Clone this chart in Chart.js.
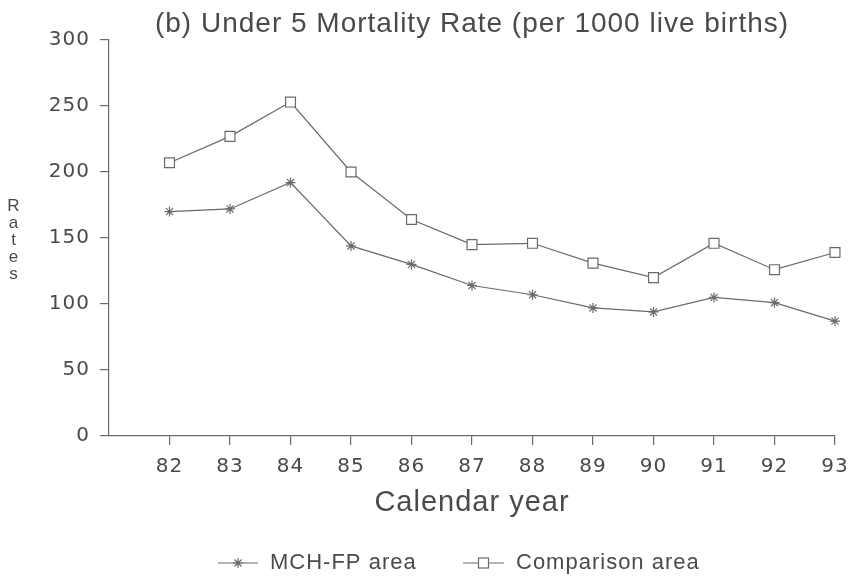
<!DOCTYPE html>
<html>
<head>
<meta charset="utf-8">
<script src="https://cdn.jsdelivr.net/npm/chart.js@4.4.1/dist/chart.umd.min.js"></script>
<style>
  html, body { margin: 0; padding: 0; background: #fff; }
  #wrap { width: 852px; height: 578px; position: relative; }
</style>
</head>
<body>
<div id="wrap"><canvas id="u5mr"></canvas></div>
<script>
// values
const years = [82, 83, 84, 85, 86, 87, 88, 89, 90, 91, 92, 93];
const mchfp = [170, 172, 192, 144, 130, 114, 107, 97, 94, 105, 101, 87];
const comparison = [207, 227, 253, 200, 164, 145, 146, 131, 120, 146, 126, 139];
const yTicks = [0, 50, 100, 150, 200, 250, 300];
const seriesNames = ["MCH-FP area", "Comparison area"];

const ink = "#4a4a4a";
const lineInk = "#6a6a6a";

function draw_marker(ctx, kind, x, y){
    ctx.save();
    ctx.strokeStyle = lineInk;
    ctx.lineWidth = 1.2;
    if(kind === "star"){
        let r = 5;
        ctx.beginPath();
        for(let i = 0; i < 4; i++){
            let a = i * Math.PI / 4;
            ctx.moveTo(x - r * Math.sin(a), y - r * Math.cos(a));
            ctx.lineTo(x + r * Math.sin(a), y + r * Math.cos(a));
        }
        ctx.stroke();
    }
    else{
        ctx.fillStyle = "#fff";
        ctx.fillRect(x - 5, y - 5, 10, 10);
        ctx.strokeRect(x - 5, y - 5, 10, 10);
    }
    ctx.restore();
}

// the scanned figure has widely spaced lettering everywhere
function spacing(chart){
    if("letterSpacing" in chart.ctx){
        chart.ctx.letterSpacing = "1px";
    }
}

const extras = {
    id: "extras",
    beforeUpdate(chart){ spacing(chart); },
    beforeDraw(chart){ spacing(chart); },
    afterDraw(chart){
        let ctx = chart.ctx;
        ctx.save();
        // stacked y axis title
        ctx.fillStyle = ink;
        ctx.font = "17px 'Liberation Sans', Arial, sans-serif";
        ctx.textAlign = "center";
        ctx.textBaseline = "middle";
        "Rates".split("").forEach((ch, i) => {
            ctx.fillText(ch, 14, 206 + i * 17);
        });

        // legend
        let items = [
            {name: seriesNames[0], kind: "star", x0: 218, x1: 258, tx: 270},
            {name: seriesNames[1], kind: "rect", x0: 463, x1: 504, tx: 516}
        ];
        let ly = 563;
        ctx.font = "22px 'Liberation Sans', Arial, sans-serif";
        ctx.textAlign = "left";
        items.forEach((it) => {
            ctx.strokeStyle = lineInk;
            ctx.lineWidth = 1.2;
            ctx.beginPath();
            ctx.moveTo(it.x0, ly);
            ctx.lineTo(it.x1, ly);
            ctx.stroke();
            draw_marker(ctx, it.kind, (it.x0 + it.x1) / 2, ly);
            ctx.fillStyle = ink;
            ctx.fillText(it.name, it.tx, ly);
        });
        ctx.restore();
    }
};

function set_up_chart(){
    let chart = document.querySelector("#u5mr");
    new Chart(chart, {
        type: "line",
        data: {
            datasets: [
                {
                    label: seriesNames[0],
                    data: years.map((yr, i) => ({x: yr, y: mchfp[i]})),
                    borderColor: lineInk,
                    borderWidth: 1.2,
                    pointStyle: "star",
                    pointRadius: 5,
                    pointBorderWidth: 1.2,
                    pointBorderColor: lineInk,
                    pointBackgroundColor: lineInk,
                    tension: 0,
                    clip: false
                },
                {
                    label: seriesNames[1],
                    data: years.map((yr, i) => ({x: yr, y: comparison[i]})),
                    borderColor: lineInk,
                    borderWidth: 1.2,
                    pointStyle: "rect",
                    pointRadius: 7,
                    pointBorderWidth: 1.2,
                    pointBorderColor: lineInk,
                    pointBackgroundColor: "#fff",
                    tension: 0,
                    clip: false
                }
            ]
        },
        options: {
            responsive: true,
            maintainAspectRatio: false,
            animation: false,
            events: [],
            layout: {
                padding: {left: 0, right: 17, top: 0, bottom: 52}
            },
            plugins: {
                legend: {display: false},
                tooltip: {enabled: false},
                title: {
                    display: true,
                    text: "(b) Under 5 Mortality Rate (per 1000 live births)",
                    fullSize: false,
                    color: ink,
                    font: {family: "'Liberation Sans', Arial, sans-serif", size: 28, weight: "normal", lineHeight: 1},
                    padding: {top: 10, bottom: 2}
                }
            },
            scales: {
                x: {
                    type: "linear",
                    min: 81,
                    max: 93,
                    offset: false,
                    afterFit(scale){
                        scale.height = 90;
                        scale.paddingLeft = 0;
                        scale.paddingRight = 0;
                    },
                    afterBuildTicks(scale){
                        scale.ticks = [81].concat(years).map((v) => ({value: v}));
                    },
                    border: {display: true, color: lineInk, width: 1.2},
                    grid: {
                        drawOnChartArea: false,
                        drawTicks: true,
                        tickLength: 9,
                        color: (c) => (c.tick && c.tick.value === 81) ? "rgba(0,0,0,0)" : lineInk,
                        lineWidth: 1.2
                    },
                    ticks: {
                        autoSkip: false,
                        maxRotation: 0,
                        padding: 10,
                        color: ink,
                        font: {family: "'DejaVu Sans', sans-serif", size: 20},
                        callback: (v) => v === 81 ? "" : String(v)
                    },
                    title: {
                        display: true,
                        text: "Calendar year",
                        color: ink,
                        font: {family: "'Liberation Sans', Arial, sans-serif", size: 29},
                        padding: {top: 4, bottom: 6}
                    }
                },
                y: {
                    min: 0,
                    max: 300,
                    afterFit(scale){ scale.width = 109; },
                    afterBuildTicks(scale){
                        scale.ticks = yTicks.map((v) => ({value: v}));
                    },
                    border: {display: true, color: lineInk, width: 1.2},
                    grid: {
                        drawOnChartArea: false,
                        drawTicks: true,
                        tickLength: 9,
                        color: lineInk,
                        lineWidth: 1.2
                    },
                    ticks: {
                        padding: 10,
                        color: ink,
                        font: {family: "'DejaVu Sans', sans-serif", size: 20}
                    }
                }
            }
        },
        plugins: [extras]
    });
}

set_up_chart();
</script>
</body>
</html>
